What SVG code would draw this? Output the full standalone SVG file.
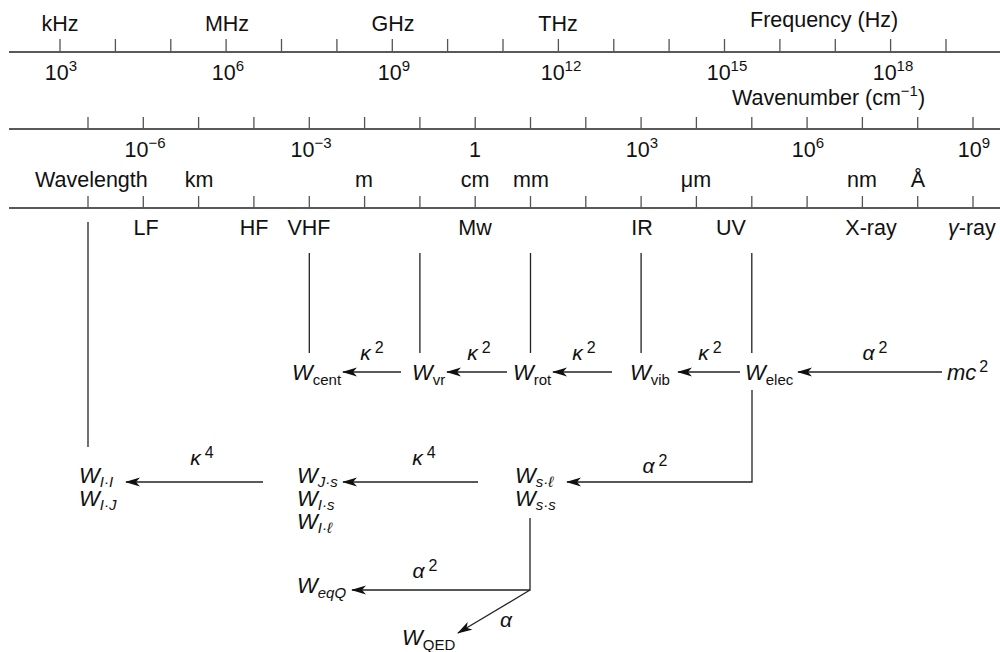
<svg xmlns="http://www.w3.org/2000/svg" width="1000" height="652" viewBox="0 0 1000 652">
<style>
text{font-family:"Liberation Sans",Arial,Helvetica,sans-serif;fill:#111;}
.ax{font-size:21.5px;text-anchor:middle;}
.axs{font-size:21.5px;}
.w{font-size:22px;font-style:italic;}
.sub{font-size:15px;}
.lab{font-size:21px;text-anchor:middle;}
.axis{stroke:#222;stroke-width:1.3;fill:none;}
.tick{stroke:#555;stroke-width:1.3;fill:none;}
.con{stroke:#222;stroke-width:1.3;fill:none;}
.con.arr{marker-end:url(#ah);}
</style>
<defs>
<marker id="ah" viewBox="0 -5 15 10" refX="14" refY="0" markerWidth="15" markerHeight="10" markerUnits="userSpaceOnUse" orient="auto">
<path d="M0,-4.5 L15,0 L0,4.5 L4,0 z" fill="#111"/>
</marker>
</defs>
<rect width="1000" height="652" fill="#fff"/>

<g id="axis-frequency">
<path class="axis" d="M9,52 H1000"/>
<path class="tick" d="M60,39V52M115.4,39V52M170.8,39V52M226.1,39V52M281.5,39V52M336.9,39V52M392.3,39V52M447.6,39V52M503,39V52M558.4,39V52M613.8,39V52M669.1,39V52M724.5,39V52M779.9,39V52M835.3,39V52M890.6,39V52M946,39V52"/>
<text class="ax" x="60" y="31">kHz</text>
<text class="ax" x="227" y="31">MHz</text>
<text class="ax" x="393" y="31">GHz</text>
<text class="ax" x="558" y="31">THz</text>
<text class="axs" x="750" y="27">Frequency (Hz)</text>
<text class="ax" x="61" y="80">10<tspan font-size="15" dy="-9">3</tspan></text>
<text class="ax" x="228" y="80">10<tspan font-size="15" dy="-9">6</tspan></text>
<text class="ax" x="394" y="80">10<tspan font-size="15" dy="-9">9</tspan></text>
<text class="ax" x="561" y="80">10<tspan font-size="15" dy="-9">12</tspan></text>
<text class="ax" x="727" y="80">10<tspan font-size="15" dy="-9">15</tspan></text>
<text class="ax" x="893" y="80">10<tspan font-size="15" dy="-9">18</tspan></text>
</g>

<g id="axis-wavenumber">
<text class="axs" x="732" y="105">Wavenumber (cm<tspan font-size="15" dy="-9">−1</tspan><tspan dy="9">)</tspan></text>
<path class="axis" d="M9,129 H1000"/>
<path class="tick" d="M88,117V129M143.3,117V129M198.6,117V129M253.9,117V129M309.3,117V129M364.6,117V129M419.9,117V129M475.2,117V129M530.5,117V129M585.8,117V129M641.1,117V129M696.4,117V129M751.8,117V129M807.1,117V129M862.4,117V129M917.7,117V129M973,117V129"/>
<text class="ax" x="145" y="157">10<tspan font-size="15" dy="-9">−6</tspan></text>
<text class="ax" x="311" y="157">10<tspan font-size="15" dy="-9">−3</tspan></text>
<text class="ax" x="475" y="157">1</text>
<text class="ax" x="642" y="157">10<tspan font-size="15" dy="-9">3</tspan></text>
<text class="ax" x="808" y="157">10<tspan font-size="15" dy="-9">6</tspan></text>
<text class="ax" x="974" y="157">10<tspan font-size="15" dy="-9">9</tspan></text>
</g>

<g id="axis-wavelength">
<text class="axs" x="35" y="187">Wavelength</text>
<text class="ax" x="199" y="187">km</text>
<text class="ax" x="364" y="187">m</text>
<text class="ax" x="475" y="187">cm</text>
<text class="ax" x="531" y="187">mm</text>
<text class="ax" x="696" y="187">μm</text>
<text class="ax" x="862" y="187">nm</text>
<text class="ax" x="918" y="187">Å</text>
<path class="axis" d="M9,208 H1000"/>
<path class="tick" d="M88,196V208M143.3,196V208M198.6,196V208M253.9,196V208M309.3,196V208M364.6,196V208M419.9,196V208M475.2,196V208M530.5,196V208M585.8,196V208M641.1,196V208M696.4,196V208M751.8,196V208M807.1,196V208M862.4,196V208M917.7,196V208M973,196V208"/>
<text class="ax" x="146" y="235">LF</text>
<text class="ax" x="254" y="235">HF</text>
<text class="ax" x="309" y="235">VHF</text>
<text class="ax" x="475" y="235">Mw</text>
<text class="ax" x="642" y="235">IR</text>
<text class="ax" x="731" y="235">UV</text>
<text class="ax" x="871" y="235">X-ray</text>
<text class="axs" x="948" y="235"><tspan font-style="italic">γ</tspan>-ray</text>
</g>

<g id="connectors">
<path class="con" d="M88,222V447"/>
<path class="con" d="M309.3,253V353M419.9,253V353M530.5,253V353M641.1,253V353M751.8,253V353"/>
<path class="con arr" d="M401,372H343"/>
<path class="con arr" d="M507,372H447"/>
<path class="con arr" d="M612,372H553"/>
<path class="con arr" d="M740,372H678"/>
<path class="con arr" d="M942,372H798"/>
<path class="con arr" d="M752,390V482H567"/>
<path class="con arr" d="M478,482H343"/>
<path class="con arr" d="M263,482H126"/>
<path class="con arr" d="M530,518V590H352"/>
<path class="con arr" d="M530,590L458,633"/>
<text class="lab" x="372" y="360"><tspan font-style="italic">κ</tspan><tspan font-size="16" dx="4" dy="-7">2</tspan></text>
<text class="lab" x="479" y="360"><tspan font-style="italic">κ</tspan><tspan font-size="16" dx="4" dy="-7">2</tspan></text>
<text class="lab" x="584" y="360"><tspan font-style="italic">κ</tspan><tspan font-size="16" dx="4" dy="-7">2</tspan></text>
<text class="lab" x="710" y="360"><tspan font-style="italic">κ</tspan><tspan font-size="16" dx="4" dy="-7">2</tspan></text>
<text class="lab" x="875" y="360"><tspan font-style="italic">α</tspan><tspan font-size="16" dx="4" dy="-7">2</tspan></text>
<text class="lab" x="655" y="473"><tspan font-style="italic">α</tspan><tspan font-size="16" dx="4" dy="-7">2</tspan></text>
<text class="lab" x="424" y="465"><tspan font-style="italic">κ</tspan><tspan font-size="16" dx="4" dy="-7">4</tspan></text>
<text class="lab" x="202" y="465"><tspan font-style="italic">κ</tspan><tspan font-size="16" dx="4" dy="-7">4</tspan></text>
<text class="lab" x="425" y="578"><tspan font-style="italic">α</tspan><tspan font-size="16" dx="4" dy="-7">2</tspan></text>
<text class="lab" x="506" y="627" font-style="italic">α</text>
</g>

<g id="node-cent"><text class="w" x="292" y="380">W<tspan class="sub" font-style="normal" dy="5">cent</tspan></text></g>
<g id="node-vr"><text class="w" x="412" y="380">W<tspan class="sub" font-style="normal" dy="5">vr</tspan></text></g>
<g id="node-rot"><text class="w" x="513" y="380">W<tspan class="sub" font-style="normal" dy="5">rot</tspan></text></g>
<g id="node-vib"><text class="w" x="630" y="380">W<tspan class="sub" font-style="normal" dy="5">vib</tspan></text></g>
<g id="node-elec"><text class="w" x="745" y="380">W<tspan class="sub" font-style="normal" dy="5">elec</tspan></text></g>
<g id="node-mc2"><text class="w" x="947" y="380">mc<tspan font-size="16" font-style="normal" dx="3" dy="-8">2</tspan></text></g>

<g id="node-II">
<text class="w" x="79" y="483">W<tspan class="sub" dy="4">I·I</tspan></text>
<text class="w" x="79" y="506">W<tspan class="sub" dy="4">I·J</tspan></text>
</g>
<g id="node-Js">
<text class="w" x="297" y="483">W<tspan class="sub" dy="4">J·s</tspan></text>
<text class="w" x="297" y="506">W<tspan class="sub" dy="4">I·s</tspan></text>
<text class="w" x="297" y="529">W<tspan class="sub" dy="4">I·ℓ</tspan></text>
</g>
<g id="node-sl">
<text class="w" x="515" y="483">W<tspan class="sub" dy="4">s·ℓ</tspan></text>
<text class="w" x="515" y="506">W<tspan class="sub" dy="4">s·s</tspan></text>
</g>
<g id="node-eqQ"><text class="w" x="297" y="593">W<tspan class="sub" dy="5">eqQ</tspan></text></g>
<g id="node-QED"><text class="w" x="402" y="645">W<tspan class="sub" font-style="normal" dy="5">QED</tspan></text></g>
</svg>
